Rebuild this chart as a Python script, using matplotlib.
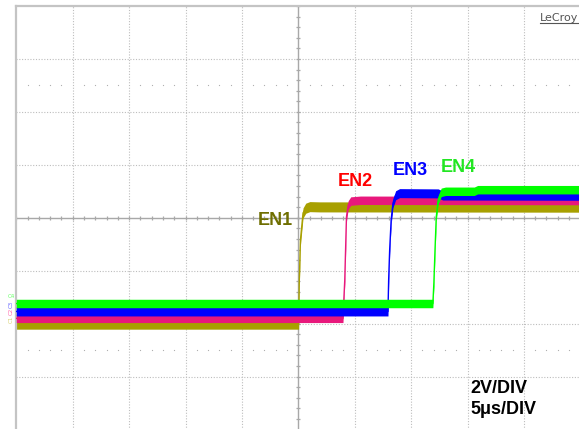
import numpy as np
import matplotlib
matplotlib.use("Agg")
import matplotlib.pyplot as plt
from matplotlib.lines import Line2D

# scope settings: 5 us/div, 2 V/div, 10 x 8 divisions
t_per_div = 5.0
v_per_div = 2.0

# traces (time in us, level in V, screen-relative)
en1_t = [-25.0, 0.03, 0.09, 0.19, 0.42, 0.66, 1.02, 1.9, 25.0]
en1_v = [-4.02, -4.02, -2.34, -0.84, 0.18, 0.36, 0.42, 0.41, 0.40]

en2_t = [-25.0, 3.96, 4.12, 4.27, 4.42, 4.65, 5.5, 25.0]
en2_v = [-3.80, -3.80, -2.34, 0.03, 0.48, 0.63, 0.66, 0.65]

en3_t = [-25.0, 7.95, 8.01, 8.10, 8.23, 8.39, 8.63, 8.98, 12.4, 12.8, 25.0]
en3_v = [-3.54, -3.54, -2.34, -1.21, -0.09, 0.55, 0.85, 0.93, 0.92, 0.84, 0.83]

en4_t = [-25.0, 11.93, 12.02, 12.12, 12.23, 12.39, 12.67, 13.05, 15.6, 15.9, 25.0]
en4_v = [-3.24, -3.24, -2.45, -1.21, 0.03, 0.66, 0.96, 1.0, 1.0, 1.06, 1.06]

trace_names = ["EN1", "EN2", "EN3", "EN4"]
trace_colors = ["#a8a000", "#e8187c", "#0000ff", "#00ff00"]
label_colors = ["#6e6e00", "#ff0000", "#0000ff", "#22e622"]
band_half = [0.19, 0.16, 0.17, 0.16]

fig = plt.figure(figsize=(5.79, 4.29), dpi=100)
ax = fig.add_axes([16.3 / 579, -0.5 / 429, 564 / 579, 423.5 / 429])
ax.set_xlim(-5 * t_per_div, 5 * t_per_div)
ax.set_ylim(-4 * v_per_div, 4 * v_per_div)
ax.set_xticks([])
ax.set_yticks([])
for side in ["right", "bottom"]:
    ax.spines[side].set_visible(False)
for side in ["left", "top"]:
    ax.spines[side].set_color("#c4c4c4")
    ax.spines[side].set_linewidth(1.6)

# graticule
grid_col = "#bdbdbd"
for k in range(-4, 5):
    if k != 0:
        ax.axvline(k * t_per_div, color=grid_col, lw=0.8, ls=(0, (1, 1.5)), zorder=0)
for k in range(-3, 4):
    if k != 0:
        ax.axhline(k * v_per_div, color=grid_col, lw=0.8, ls=(0, (1, 1.5)), zorder=0)
ax.axhline(0, color="#a8a8a8", lw=1.0, zorder=0)
ax.axvline(0, color="#a8a8a8", lw=1.0, zorder=0)

minor_t = np.arange(-25, 25.01, t_per_div / 5)
minor_v = np.arange(-8, 8.01, v_per_div / 5)
ax.plot(minor_t, np.zeros_like(minor_t), ls="none", marker="|", ms=2.6, mew=0.9, color="#a8a8a8", zorder=0)
ax.plot(np.zeros_like(minor_v), minor_v, ls="none", marker="_", ms=2.6, mew=0.9, color="#a8a8a8", zorder=0)

dot_t = [x for x in minor_t if abs(x / t_per_div - round(x / t_per_div)) > 1e-6]
for row in [2.5 * v_per_div, -2.5 * v_per_div]:
    ax.plot(dot_t, [row] * len(dot_t), ls="none", marker="s", ms=0.8, mew=0, color="#b0b0b0", zorder=0)

# traces
all_t = [en1_t, en2_t, en3_t, en4_t]
all_v = [en1_v, en2_v, en3_v, en4_v]
for i in range(4):
    t = np.array(all_t[i])
    v = np.array(all_v[i])
    ax.fill_between(t, v - band_half[i], v + band_half[i], color=trace_colors[i], lw=0, zorder=2 + i)
    ax.plot(t, v, color=trace_colors[i], lw=1.0, zorder=2 + i)

# channel labels
lab_pos = [(-0.47, -0.28, "right"), (3.52, 1.20, "left"), (8.40, 1.61, "left"), (12.65, 1.74, "left")]
for i, (x, y, ha) in enumerate(lab_pos):
    ax.text(x, y, trace_names[i], color=label_colors[i], fontsize=13, fontweight="bold",
            family="Liberation Sans", ha=ha, va="baseline", zorder=10)

ax.text(15.28, -6.63, "2V/DIV", fontsize=13, fontweight="bold", family="Liberation Sans",
        color="black", va="baseline", zorder=10)
ax.text(15.28, -7.42, "5\u03bcs/DIV", fontsize=13, fontweight="bold", family="Liberation Sans",
        color="black", va="baseline", zorder=10)

# ground markers at the left edge
marks = [("C4", 297, 0), ("C3", 304.5, 90), ("C2", 311.5, 90), ("C1", 319, 90)]
mark_colors = ["#66ff66", "#6666ff", "#ff66aa", "#d8d070"]
for (s, ypx, rot), c in zip(marks, mark_colors):
    fig.text(11 / 579, 1 - ypx / 429, s, color=c, fontsize=4, rotation=rot,
             ha="center", va="center")

# vendor mark
fig.text(540 / 579, 1 - 21 / 429, "LeCroy", fontsize=8, color="#555555", va="baseline")
fig.add_artist(Line2D([540 / 579, 579 / 579], [1 - 22.5 / 429] * 2, color="#555555", lw=0.8))

fig.savefig("out.png", dpi=100)
